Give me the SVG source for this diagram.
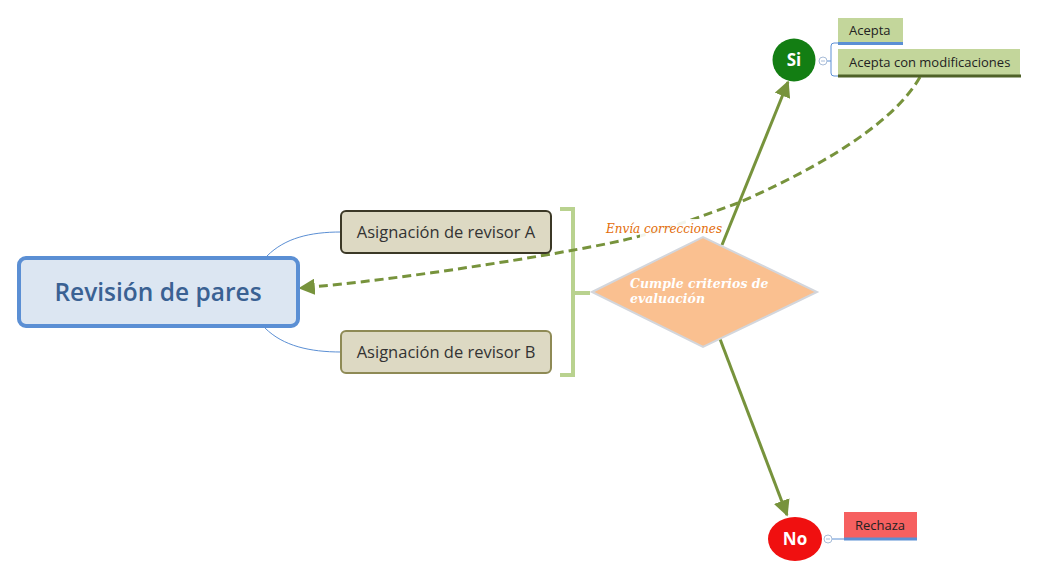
<svg xmlns="http://www.w3.org/2000/svg" width="1039" height="577" viewBox="0 0 1039 577">
<style>
.sans{font-family:"Open Sans","Noto Sans","DejaVu Sans",sans-serif}
.rev{fill:#ddd9c3;stroke-width:2}
.revt{font-size:16.5px;fill:#333;text-anchor:middle}
.flow{stroke:#77933c;stroke-width:3;fill:none}
.thin{stroke:#5b8fd4;stroke-width:1;fill:none}
.leaf{fill:#c3d69b}
.leaft{font-size:13px;fill:#222}
.col{fill:#fff;stroke:#a8bcd8;stroke-width:1}
.circt{fill:#fff;font-weight:bold;font-size:17px;text-anchor:middle}
.serif{font-family:"DejaVu Serif","Liberation Serif",serif;font-style:italic}
</style>
<defs>
<marker id="ah" viewBox="0 0 10 10" refX="9" refY="5" markerWidth="5.5" markerHeight="5.5" orient="auto" markerUnits="strokeWidth">
<path d="M0,0 L10,5 L0,10 z" fill="#77933c"/>
</marker>
</defs>
<rect width="1039" height="577" fill="#fff"/>
<g id="connectors">
<path class="thin" d="M267,256 C285,238 310,232 341,232"/>
<path class="thin" d="M265,328 C283,346 310,352 341,352"/>
<path d="M560,209 H573 V375 H560 M573,293 H590" fill="none" stroke="#b9d28f" stroke-width="4"/>
<path d="M827,61 H831 M838,43 H834 Q831,43 831,46 V73 Q831,76 834,76 H838" class="thin"/>
<line x1="832" y1="539" x2="844" y2="539" class="thin"/>
<path d="M920,77 C890,130 800,176 738,203 C705,215 660,232 620,241 C560,254 400,280 300,288" fill="none" stroke="#77933c" stroke-width="3" stroke-dasharray="9,5" marker-end="url(#ah)"/>
<g id="envia">
<rect x="640" y="219" width="84" height="19" fill="#fff" opacity="0.9"/>
<text x="606" y="233" class="serif" font-size="12" fill="#e36c09">Envía correcciones</text>
</g>
<line class="flow" x1="722" y1="245" x2="788" y2="82" marker-end="url(#ah)"/>
<line class="flow" x1="720" y1="339" x2="787" y2="515" marker-end="url(#ah)"/>
</g>
<g id="revision">
<rect x="19" y="258" width="279" height="68" rx="7" fill="#dce6f2" stroke="#5b8fd4" stroke-width="4"/>
<text x="158" y="301" class="sans" font-size="24.5" font-weight="600" fill="#3a6193" text-anchor="middle">Revisión de pares</text>
</g>
<g id="revisorA">
<rect x="341" y="211" width="210" height="42" rx="5" class="rev" stroke="#3b3826"/>
<text x="446" y="238" class="sans revt">Asignación de revisor A</text>
</g>
<g id="revisorB">
<rect x="341" y="331" width="210" height="42" rx="5" class="rev" stroke="#8e8a55"/>
<text x="446" y="358" class="sans revt">Asignación de revisor B</text>
</g>
<g id="criterios">
<polygon points="592,292 703,237 817,292 703,347" fill="#fac090" stroke="#d3d6dc" stroke-width="2"/>
<text class="serif" font-weight="bold" font-size="12.5" fill="#fff"><tspan x="630" y="288">Cumple criterios de</tspan><tspan x="630" y="303">evaluación</tspan></text>
</g>
<g id="si">
<circle cx="794" cy="60" r="21.5" fill="#137e13"/>
<text x="794" y="66" class="sans circt">Si</text>
<circle cx="823" cy="61" r="4" class="col"/>
<line x1="821" y1="61" x2="825" y2="61" stroke="#a8bcd8" stroke-width="1"/>
</g>
<g id="acepta">
<rect x="838" y="18" width="65" height="26" class="leaf"/>
<line x1="838" y1="43.5" x2="903" y2="43.5" stroke="#5b8fd4" stroke-width="3"/>
<text x="849" y="35" class="sans leaft">Acepta</text>
</g>
<g id="aceptaMod">
<rect x="838" y="49" width="182" height="27" class="leaf"/>
<line x1="838" y1="76" x2="1021" y2="76" stroke="#4f6228" stroke-width="3"/>
<text x="849" y="67" class="sans leaft">Acepta con modificaciones</text>
</g>
<g id="no">
<ellipse cx="795" cy="539" rx="27" ry="22" fill="#f01010"/>
<text x="795" y="545" class="sans circt">No</text>
<circle cx="828" cy="539" r="4" class="col"/>
<line x1="826" y1="539" x2="830" y2="539" stroke="#a8bcd8" stroke-width="1"/>
</g>
<g id="rechaza">
<rect x="844" y="512" width="73" height="27" fill="#f66060"/>
<line x1="844" y1="539" x2="917" y2="539" stroke="#5b8fd4" stroke-width="3"/>
<text x="880" y="530" class="sans leaft" text-anchor="middle">Rechaza</text>
</g>
</svg>
